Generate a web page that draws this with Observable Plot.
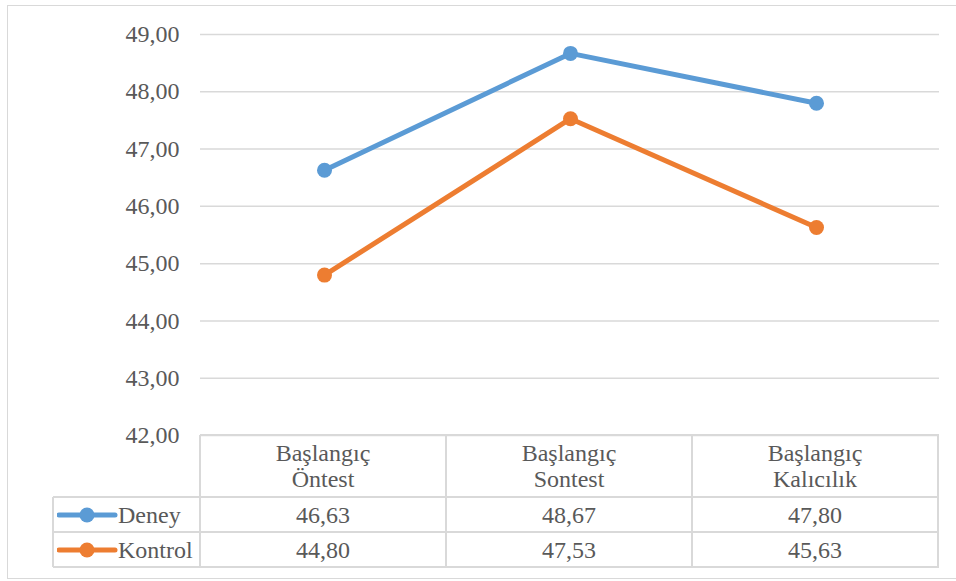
<!DOCTYPE html>
<html>
<head>
<meta charset="utf-8">
<script src="https://cdn.jsdelivr.net/npm/d3@7"></script>
<script src="https://cdn.jsdelivr.net/npm/@observablehq/plot@0.6"></script>
<style>
  html, body { margin: 0; padding: 0; background: #fff; }
  #wrap { position: relative; width: 956px; height: 581px; overflow: hidden; font-family: 'Liberation Serif', serif; color: #595959; }
  #frame { position: absolute; left: 7px; top: 5px; width: 970px; height: 574px; border: 1.5px solid #d9d9d9; box-sizing: border-box; }
  #chart { position: absolute; left: 0; top: 0; }
  #chart svg text { font-family: 'Liberation Serif', serif; }
  .cell { position: absolute; box-sizing: border-box; display: flex; align-items: center; justify-content: center; text-align: center; font-family: 'Liberation Serif', serif; font-size: 24px; line-height: 26px; }
  .hline, .vline { position: absolute; background: #d9d9d9; }
</style>
</head>
<body>
<div id="wrap">
  <div id="frame"></div>
  <div id="chart"></div>
  <div id="table"></div>
</div>
<script>
const categories = ["Başlangıç Öntest", "Başlangıç Sontest", "Başlangıç Kalıcılık"];
const categoryLines = [["Başlangıç", "Öntest"], ["Başlangıç", "Sontest"], ["Başlangıç", "Kalıcılık"]];
const seriesNames = ["Deney", "Kontrol"];
const deney = [46.63, 48.67, 47.80];
const kontrol = [44.80, 47.53, 45.63];
const colors = ["#5B9BD5", "#ED7D31"];
const yTicks = [42, 43, 44, 45, 46, 47, 48, 49];

const fmt = v => v.toFixed(2).replace(".", ",");
const seriesValues = [deney, kontrol];
const data = [];
seriesNames.forEach((s, i) => categories.forEach((c, j) => data.push({series: s, cat: c, value: seriesValues[i][j]})));

const plot = Plot.plot({
  width: 956,
  height: 460,
  marginTop: 34,
  marginBottom: 25,
  marginLeft: 200,
  marginRight: 17,
  style: {fontFamily: "'Liberation Serif', serif", fontSize: "24px", color: "#595959", background: "transparent"},
  x: {type: "point", domain: categories, axis: null},
  y: {domain: [42, 49]},
  color: {domain: seriesNames, range: colors},
  marks: [
    Plot.ruleY(yTicks, {stroke: "#d9d9d9", strokeWidth: 1.5, strokeOpacity: 1}),
    Plot.axisY({ticks: yTicks, tickFormat: fmt, tickSize: 0, tickPadding: 21, label: null}),
    Plot.line(data, {x: "cat", y: "value", z: "series", stroke: "series", strokeWidth: 5}),
    Plot.dot(data, {x: "cat", y: "value", fill: "series", r: 7.5})
  ]
});
document.getElementById("chart").appendChild(plot);

// Data table (with legend keys) below the plot area
const table = document.getElementById("table");
const colX = [200, 446, 692, 938];
const legendLeft = 53;
const rowY = [435, 497, 532, 567];
function add(cls, styles, html) {
  const d = document.createElement("div");
  d.className = cls;
  Object.assign(d.style, styles);
  if (html !== undefined) d.innerHTML = html;
  table.appendChild(d);
  return d;
}
categoryLines.forEach((lines, j) => {
  add("cell", {left: colX[j] + "px", top: rowY[0] + "px", width: (colX[j+1]-colX[j]) + "px", height: (rowY[1]-rowY[0]) + "px"}, lines.join("<br>"));
});
seriesNames.forEach((s, i) => {
  const top = rowY[i+1], h = rowY[i+2] - rowY[i+1];
  const leg = add("cell", {left: legendLeft + "px", top: top + "px", width: (colX[0]-legendLeft) + "px", height: h + "px", justifyContent: "flex-start"});
  leg.innerHTML = `<svg width="62" height="20" style="margin-left:4px;flex:none"><line x1="2" y1="10" x2="58" y2="10" stroke="${colors[i]}" stroke-width="5" stroke-linecap="round"/><circle cx="30" cy="10" r="7.5" fill="${colors[i]}"/></svg><span style="margin-left:-1px">${s}</span>`;
  seriesValues[i].forEach((v, j) => {
    add("cell", {left: colX[j] + "px", top: top + "px", width: (colX[j+1]-colX[j]) + "px", height: h + "px"}, fmt(v));
  });
});
const lw = 1.5;
add("hline", {left: colX[0] + "px", top: (rowY[0]-0.75) + "px", width: (colX[3]-colX[0]+0.75) + "px", height: lw + "px"});
[rowY[1], rowY[2], rowY[3]].forEach(y => add("hline", {left: legendLeft + "px", top: (y-0.75) + "px", width: (colX[3]-legendLeft+0.75) + "px", height: lw + "px"}));
colX.forEach(x => add("vline", {left: (x-0.75) + "px", top: rowY[0] + "px", width: lw + "px", height: (rowY[3]-rowY[0]) + "px"}));
add("vline", {left: (legendLeft-0.75) + "px", top: rowY[1] + "px", width: lw + "px", height: (rowY[3]-rowY[1]) + "px"});
</script>
</body>
</html>
